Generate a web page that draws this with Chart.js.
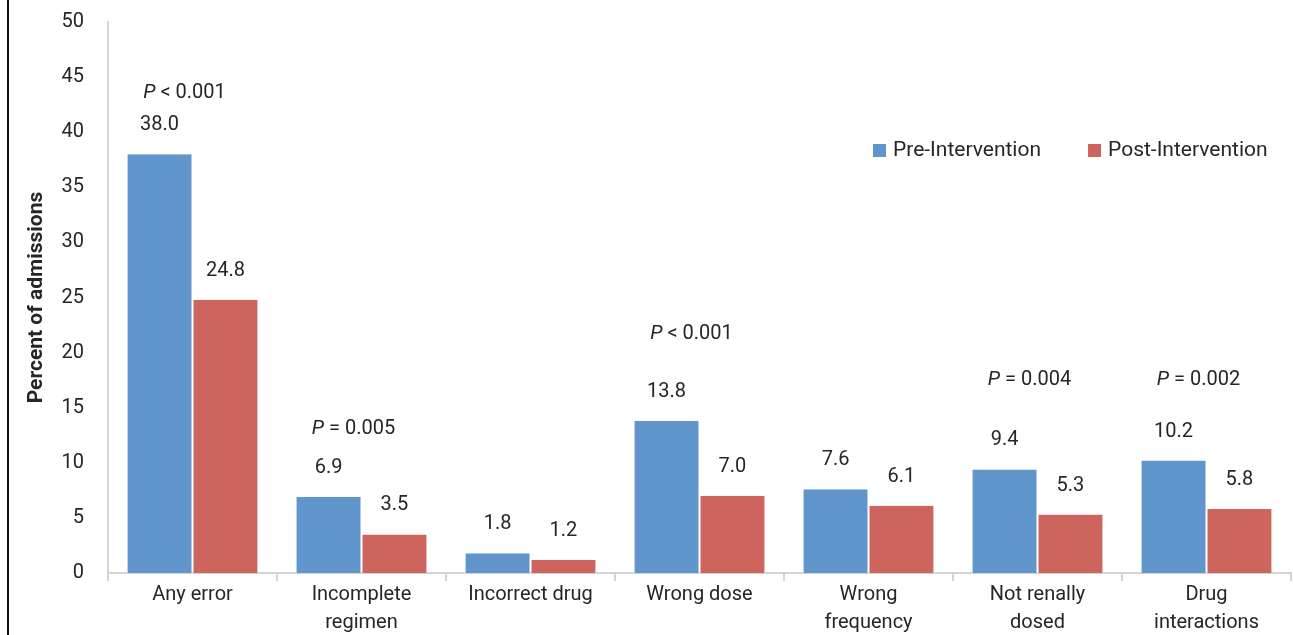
<!DOCTYPE html>
<html>
<head>
<meta charset="utf-8">
<script src="https://cdn.jsdelivr.net/npm/chart.js@4.4.1/dist/chart.umd.min.js"></script>
<style>
    html, body { margin: 0; padding: 0; background: #fff; }
    #wrap { position: relative; width: 1293px; height: 635px; }
    #edge { position: absolute; left: 7px; top: 0; width: 2px; height: 635px; background: #111; }
</style>
</head>
<body>
<div id="wrap">
    <canvas id="chartErrors" width="1293" height="635"></canvas>
    <div id="edge"></div>
</div>
<script>
// Data
let categories = ['Any error', ['Incomplete', 'regimen'], 'Incorrect drug', 'Wrong dose', ['Wrong', 'frequency'], ['Not renally', 'dosed'], ['Drug', 'interactions']]
let preIntervention = [38.0, 6.9, 1.8, 13.8, 7.6, 9.4, 10.2]
let postIntervention = [24.8, 3.5, 1.2, 7.0, 6.1, 5.3, 5.8]
let pCategory = [0, 1, 3, 5, 6]
let pText = ['< 0.001', '= 0.005', '< 0.001', '= 0.004', '= 0.002']
let pLevel = [43.6, 13.1, 21.7, 17.5, 17.5]
let yTicks = [0, 5, 10, 15, 20, 25, 30, 35, 40, 45, 50]

const font = 'Roboto, "Liberation Sans", sans-serif'
const textColor = '#262626'

// labels, p values and legend drawn by hand
const annotate = {
    id: 'annotate',
    afterDatasetsDraw(chart) {
        const ctx = chart.ctx
        const area = chart.chartArea
        const x = chart.scales.x
        const y = chart.scales.y
        ctx.save()
        ctx.fillStyle = textColor
        ctx.font = '20px ' + font
        ctx.textAlign = 'center'
        ctx.textBaseline = 'middle'
        chart.data.datasets.forEach(function(ds, i) {
            chart.getDatasetMeta(i).data.forEach(function(bar, j) {
                ctx.fillText(ds.data[j].toFixed(1), bar.x, bar.y - 29)
            })
        })
        // P values
        pCategory.forEach(function(c, i) {
            let cx = x.getPixelForValue(c) - 8
            let cy = y.getPixelForValue(pLevel[i])
            ctx.font = 'italic 20px ' + font
            let w1 = ctx.measureText('P').width
            ctx.font = '20px ' + font
            let rest = ' ' + pText[i]
            let w2 = ctx.measureText(rest).width
            let sx = cx - (w1 + w2) / 2
            ctx.textAlign = 'left'
            ctx.font = 'italic 20px ' + font
            ctx.fillText('P', sx, cy)
            ctx.font = '20px ' + font
            ctx.fillText(rest, sx + w1, cy)
        })
        // legend
        let lx = area.left + 765
        let ly = area.top + 128
        ctx.textAlign = 'left'
        ctx.font = '21px ' + font
        chart.data.datasets.forEach(function(ds, i) {
            ctx.fillStyle = ds.backgroundColor
            ctx.fillRect(lx, ly - 6, 13, 13)
            ctx.fillStyle = textColor
            ctx.fillText(ds.label, lx + 20, ly + 1)
            lx += 20 + ctx.measureText(ds.label).width + 47
        })
        ctx.restore()
    }
}

var ctx = document.getElementById('chartErrors').getContext('2d')
var chart = new Chart(ctx, {
    type: 'bar',
    data: {
        labels: categories,
        datasets: [{
            label: 'Pre-Intervention',
            data: preIntervention,
            backgroundColor: '#6196cc',
            borderColor: '#ffffff',
            borderWidth: { left: 1, right: 1 },
            borderSkipped: 'bottom'
        }, {
            label: 'Post-Intervention',
            data: postIntervention,
            backgroundColor: '#cd645e',
            borderColor: '#ffffff',
            borderWidth: { left: 1, right: 1 },
            borderSkipped: 'bottom'
        }]
    },
    options: {
        responsive: false,
        animation: false,
        categoryPercentage: 0.78,
        barPercentage: 1.0,
        layout: { padding: { left: 0, right: 2, top: 22, bottom: 0 } },
        plugins: {
            legend: { display: false },
            tooltip: { enabled: false }
        },
        scales: {
            x: {
                afterFit: function(scale) {
                    scale.height = 62
                    scale.paddingLeft = 0
                    scale.paddingRight = 0
                },
                border: { color: '#d4d4d4', width: 2 },
                grid: { display: true, drawOnChartArea: false, drawTicks: true, tickLength: 8, color: '#d4d4d4', lineWidth: 2, offset: true },
                ticks: { color: textColor, font: { family: font, size: 20, lineHeight: 1.4 }, padding: 0, maxRotation: 0, autoSkip: false }
            },
            y: {
                min: 0,
                max: 50,
                afterFit: function(scale) {
                    scale.width = 108
                    scale.paddingTop = 0
                    scale.paddingBottom = 0
                },
                afterBuildTicks: function(scale) { scale.ticks = yTicks.map(v => ({ value: v })) },
                border: { color: '#d4d4d4', width: 2 },
                grid: { display: false, drawTicks: false },
                ticks: { color: textColor, font: { family: font, size: 20 }, padding: 24 },
                title: {
                    display: true,
                    text: 'Percent of admissions',
                    color: textColor,
                    font: { family: font, size: 21, weight: 'bold' },
                    padding: { top: 24, bottom: 0 }
                }
            }
        }
    },
    plugins: [annotate]
})
</script>
</body>
</html>
